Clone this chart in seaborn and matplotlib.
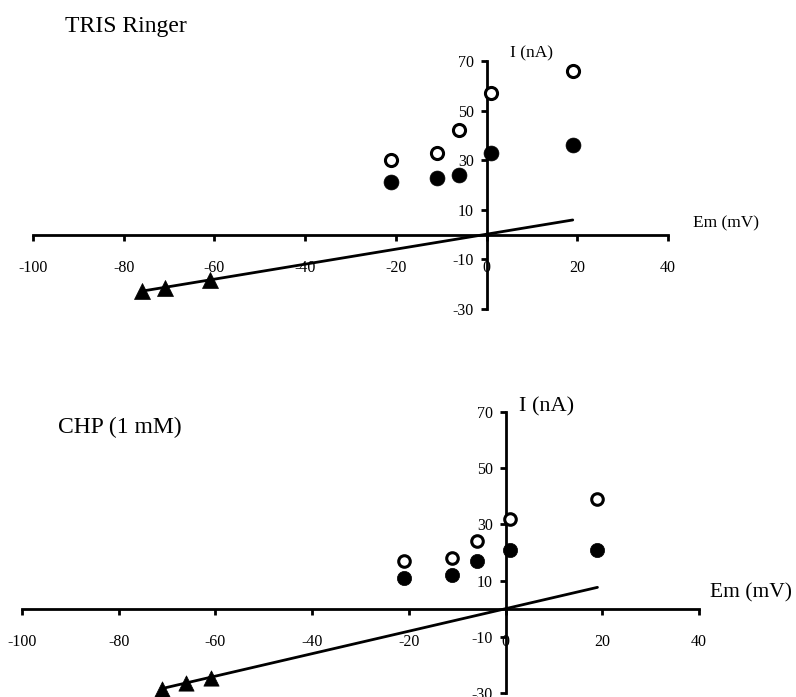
import seaborn as sns
import matplotlib.pyplot as plt

# TRIS Ringer panel
tris_em = [-21, -11, -6, 1, 19]
tris_open = [30, 33, 42, 57, 66]
tris_filled = [21.3, 23, 24, 33, 36]
tris_tri_em = [-76, -71, -61]
tris_tri_i = [-22.8, -21.5, -18.3]
tris_fit_em = [-76, 19]
tris_fit_i = [-22.8, 5.9]

# CHP (1 mM) panel
chp_em = [-21, -11, -6, 1, 19]
chp_open = [17, 17.9, 24, 32, 39]
chp_filled = [10.8, 12, 16.9, 20.9, 20.9]
chp_tri_em = [-71, -66, -61]
chp_tri_i = [-28.5, -26.6, -24.6]
chp_fit_em = [-71, 19]
chp_fit_i = [-28.4, 7.6]

x_ticks = [-100, -80, -60, -40, -20, 0, 20, 40]
y_ticks = [-30, -10, 10, 30, 50, 70]

sns.set_style("white")
plt.rcParams['font.family'] = ['Liberation Serif', 'DejaVu Serif']
plt.rcParams['axes.unicode_minus'] = False

W, H = 796, 697
fig = plt.figure(figsize=(W / 100, H / 100), dpi=100)


def px_rect(x0, y0, x1, y1):
    # pixel box -> figure fraction [left, bottom, width, height]
    return [x0 / W, 1 - y1 / H, (x1 - x0) / W, (y1 - y0) / H]


def draw_panel(ax, em, open_i, filled_i, tri_em, tri_i, fit_em, fit_i, ms):
    sns.lineplot(x=fit_em, y=fit_i, ax=ax, color='black', linewidth=2)
    sns.scatterplot(x=em, y=filled_i, ax=ax, marker='o', s=ms, color='black',
                    edgecolor='black', linewidth=0.5, clip_on=False, zorder=3)
    sns.scatterplot(x=em, y=open_i, ax=ax, marker='o', s=ms * 0.66, facecolor='white',
                    edgecolor='black', linewidth=2.2, clip_on=False, zorder=3)
    sns.scatterplot(x=tri_em, y=tri_i, ax=ax, marker='^', s=ms * 1.15, color='black',
                    edgecolor='black', linewidth=0.5, clip_on=False, zorder=3)
    ax.set_xlim(-100, 40)
    ax.set_ylim(-30, 70)
    ax.set_xticks(x_ticks)
    ax.set_yticks(y_ticks)
    ax.spines['left'].set_position(('data', 0))
    ax.spines['bottom'].set_position(('data', 0))
    ax.spines['right'].set_visible(False)
    ax.spines['top'].set_visible(False)
    for s in ('left', 'bottom'):
        ax.spines[s].set_linewidth(2)
        ax.spines[s].set_color('black')
    ax.tick_params(axis='both', direction='out', length=4, width=2, colors='black',
                   labelsize=11.5, left=True, bottom=True)
    ax.tick_params(axis='x', pad=14)
    ax.tick_params(axis='y', pad=5)
    ax.set_xlabel('')
    ax.set_ylabel('')
    ax.patch.set_alpha(0)


ax1 = fig.add_axes(px_rect(33, 61, 668, 309))
draw_panel(ax1, tris_em, tris_open, tris_filled, tris_tri_em, tris_tri_i,
           tris_fit_em, tris_fit_i, 115)

ax2 = fig.add_axes(px_rect(22, 412, 699, 693))
draw_panel(ax2, chp_em, chp_open, chp_filled, chp_tri_em, chp_tri_i,
           chp_fit_em, chp_fit_i, 105)


def label(x, y, txt, size):
    fig.text(x / W, 1 - y / H, txt, fontsize=size, ha='left', va='baseline', color='black')


label(65, 32, 'TRIS Ringer', 17)
label(510, 57, 'I (nA)', 12.5)
label(693, 227, 'Em (mV)', 12.5)
label(58, 433, 'CHP (1 mM)', 17)
label(519, 411, 'I (nA)', 16)
label(710, 597, 'Em (mV)', 15.5)

fig.savefig('out.png', dpi=100)
